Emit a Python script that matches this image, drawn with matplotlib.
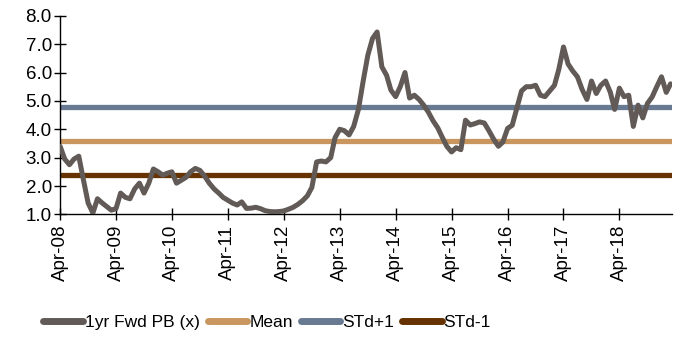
import numpy as np
import matplotlib
matplotlib.use("Agg")
import matplotlib.pyplot as plt
import matplotlib.dates as mdates
import pandas as pd

plt.rcParams['font.family'] = ['Liberation Sans', 'DejaVu Sans']

# monthly 1yr forward PB, Apr-08 .. Mar-19
pb = [3.40, 2.95, 2.75, 2.95, 3.05, 2.20, 1.40, 1.05, 1.55, 1.40,
      1.27, 1.15, 1.20, 1.75, 1.60, 1.55, 1.90, 2.10, 1.75, 2.10,
      2.60, 2.50, 2.38, 2.45, 2.50, 2.10, 2.20, 2.30, 2.50, 2.62,
      2.55, 2.35, 2.10, 1.90, 1.75, 1.60, 1.50, 1.40, 1.33, 1.44,
      1.21, 1.22, 1.25, 1.20, 1.13, 1.10, 1.09, 1.10, 1.12, 1.18,
      1.25, 1.35, 1.48, 1.65, 1.95, 2.85, 2.88, 2.85, 3.00, 3.70,
      4.00, 3.95, 3.80, 4.10, 4.70, 5.70, 6.60, 7.20, 7.43, 6.20,
      5.90, 5.38, 5.15, 5.50, 6.00, 5.10, 5.20, 5.05, 4.85, 4.60,
      4.30, 4.05, 3.70, 3.40, 3.20, 3.35, 3.28, 4.32, 4.15, 4.20,
      4.26, 4.22, 3.95, 3.65, 3.40, 3.55, 4.03, 4.14, 4.75, 5.35,
      5.50, 5.50, 5.55, 5.20, 5.15, 5.35, 5.55, 6.10, 6.90, 6.30,
      6.05, 5.85, 5.40, 5.05, 5.70, 5.26, 5.55, 5.70, 5.30, 4.70,
      5.45, 5.15, 5.20, 4.10, 4.85, 4.40, 4.91, 5.14, 5.50, 5.85,
      5.30, 5.60]
dates = pd.date_range('2008-04-01', periods=len(pb), freq='MS')

mean_val = 3.6
std_up = 4.8
std_dn = 2.4

tick_dates = pd.date_range('2008-04-01', '2018-04-01', freq='12MS')

fig = plt.figure(figsize=(6.83, 3.43), dpi=100)
ax = fig.add_axes([0.088, 0.375, 0.896, 0.579])

ax.plot(dates, pb, color='#615a56', lw=3.6, solid_capstyle='round', label='1yr Fwd PB (x)', zorder=3)
ax.plot([dates[0], dates[-1]], [mean_val] * 2, color='#c9965f', lw=3.8, solid_capstyle='round', label='Mean', zorder=2)
ax.plot([dates[0], dates[-1]], [std_up] * 2, color='#687a91', lw=3.8, solid_capstyle='round', label='STd+1', zorder=2)
ax.plot([dates[0], dates[-1]], [std_dn] * 2, color='#663300', lw=3.8, solid_capstyle='round', label='STd-1', zorder=2)

ax.set_ylim(1.0, 8.0)
ax.set_yticks(np.arange(1.0, 8.01, 1.0))
ax.yaxis.set_major_formatter(matplotlib.ticker.FormatStrFormatter('%.1f'))
ax.set_xlim(dates[0], dates[-1] + pd.Timedelta(days=10))
ax.set_xticks(tick_dates)
ax.xaxis.set_major_formatter(mdates.DateFormatter('%b-%y'))
plt.setp(ax.get_xticklabels(), rotation=90)

for s in ['top', 'right']:
    ax.spines[s].set_visible(False)
for s in ['left', 'bottom']:
    ax.spines[s].set_color('black')
    ax.spines[s].set_linewidth(1.0)
ax.tick_params(direction='inout', length=8, width=1.0, labelsize=13.5, colors='black')
ax.tick_params(axis='y', pad=2)

leg = ax.legend(loc='center', bbox_to_anchor=(0.391, 0.061), bbox_transform=fig.transFigure,
                ncol=4, frameon=False, fontsize=12.5, handlelength=2.3, handletextpad=0.1,
                columnspacing=0.45)
for h in leg.get_lines():
    h.set_linewidth(5)

fig.savefig('out.png', dpi=100)
